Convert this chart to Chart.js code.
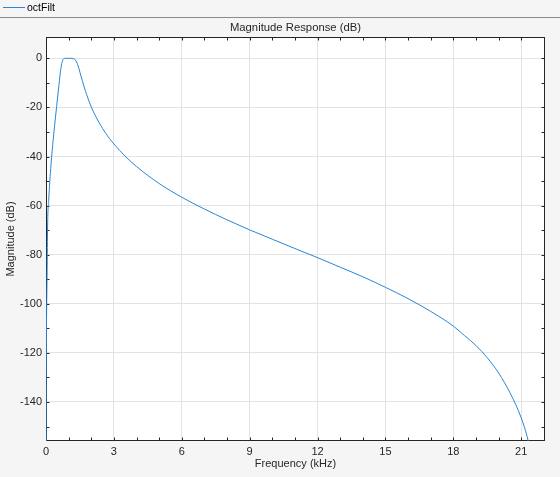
<!DOCTYPE html>
<html>
<head>
<meta charset="utf-8">
<script src="https://cdn.jsdelivr.net/npm/chart.js"></script>
<style>
  html, body { margin: 0; padding: 0; background: #f5f5f5; }
  #wrap { position: relative; width: 560px; height: 477px; overflow: hidden; }
  #strip { position: absolute; left: 0; top: 0; width: 560px; height: 17px; border-bottom: 1px solid #8c8c8c; z-index: 2; }
  #strip .sw { position: absolute; left: 3px; top: 7px; width: 22px; height: 1px; background: #2a86d4; }
  #strip .lb { position: absolute; left: 27px; top: 1px; font: 10.5px "Liberation Sans", Arial, sans-serif; color: #000; }
  #myChart { position: absolute; left: 0; top: 0; }
</style>
</head>
<body>
<div id="wrap">
  <div id="strip"><span class="sw"></span><span class="lb">octFilt</span></div>
  <canvas id="myChart" width="560" height="477"></canvas>
</div>
<script>
// values (kHz, dB)
const freqKHz = [0, 0.005, 0.01, 0.02, 0.05, 0.07, 0.12, 0.17, 0.22, 0.27, 0.32, 0.37, 0.42, 0.47,
  0.52, 0.57, 0.62, 0.67, 0.72, 0.77, 0.87, 1.0, 1.1, 1.2, 1.3, 1.4, 1.5, 1.6, 1.7, 1.8, 2.0, 2.2,
  2.5, 2.8, 3.0, 3.5, 4, 5, 6, 7, 8, 9, 10, 11, 12, 13, 14, 15, 16, 17, 18, 18.5, 19, 19.5, 20, 20.5,
  21, 21.3, 21.6, 21.9];
const magDB = [-300, -147, -129, -111, -87, -68.7, -57.8, -49.9, -43.4, -37.9, -33.0, -28.3, -23.9, -19.6,
  -15.3, -11.1, -6.9, -3.4, -1.2, -0.3, 0, 0, 0, -0.1, -0.7, -2.6, -5.7, -9.0, -12.1, -14.9, -19.8, -23.7,
  -28.6, -32.6, -34.9, -39.9, -44.1, -51.0, -56.6, -61.4, -65.8, -69.9, -73.7, -77.5, -81.2, -85.1, -89.0,
  -93.3, -97.9, -103.1, -109.1, -113.0, -117.0, -122.0, -128.2, -136.2, -146.5, -155.6, -170, -200];
const xTicks = [0, 3, 6, 9, 12, 15, 18, 21];
const yTicks = [-140, -120, -100, -80, -60, -40, -20, 0];

const xMin = 0, xMax = 22.05;
const yMin = -155.9, yMax = 8.7;
const axisColor = '#262626';
const lineColor = '#2a86d4';
const fontFamily = '"Liberation Sans", Arial, sans-serif';

// white plot area, axes box and inward ticks (major + minor)
const axesBox = {
  id: 'axesBox',
  beforeDraw(chart) {
    const a = chart.chartArea, ctx = chart.ctx;
    ctx.save();
    ctx.fillStyle = '#ffffff';
    ctx.fillRect(a.left, a.top, a.right - a.left, a.bottom - a.top);
    ctx.restore();
  },
  beforeDatasetsDraw(chart) {
    const a = chart.chartArea, ctx = chart.ctx;
    const xs = chart.scales.x, ys = chart.scales.y;
    const L = Math.round(a.left) + 0.5, R = Math.round(a.right) - 0.5;
    const T = Math.round(a.top) + 0.5, B = Math.round(a.bottom) - 0.5;
    ctx.save();
    ctx.strokeStyle = axisColor;
    ctx.lineWidth = 1;
    ctx.beginPath();
    for (let v = 0; v <= xMax; v += 1) {
      const px = Math.round(xs.getPixelForValue(v)) + 0.5;
      ctx.moveTo(px, B); ctx.lineTo(px, B - 3);
      ctx.moveTo(px, T); ctx.lineTo(px, T + 3);
    }
    for (let v = -150; v <= 0; v += 10) {
      const py = Math.round(ys.getPixelForValue(v)) + 0.5;
      ctx.moveTo(L, py); ctx.lineTo(L + 3, py);
      ctx.moveTo(R, py); ctx.lineTo(R - 3, py);
    }
    ctx.stroke();
    ctx.strokeRect(L, T, R - L, B - T);
    ctx.restore();
  }
};

const ctx = document.getElementById('myChart');

new Chart(ctx, {
  type: 'line',
  data: {
    datasets: [{
      label: 'octFilt',
      data: freqKHz.map((f, i) => ({ x: f, y: magDB[i] })),
      borderColor: lineColor,
      borderWidth: 1,
      pointRadius: 0,
      cubicInterpolationMode: 'monotone',
      fill: false
    }]
  },
  options: {
    responsive: false,
    animation: false,
    events: [],
    layout: { padding: { top: 0, right: 15, bottom: 0, left: 0 } },
    plugins: {
      legend: { display: false },
      tooltip: { enabled: false },
      title: {
        display: true,
        fullSize: false,
        text: 'Magnitude Response (dB)',
        color: axisColor,
        font: { family: fontFamily, size: 11.3, weight: 'normal' },
        padding: { top: 21.2, bottom: 2.2 }
      }
    },
    scales: {
      x: {
        type: 'linear',
        min: xMin,
        max: xMax,
        afterBuildTicks: s => { s.ticks = xTicks.map(v => ({ value: v })); },
        afterFit: s => { s.height = 36; },
        grid: { color: '#e3e3e3', drawTicks: false },
        border: { display: false },
        ticks: { color: axisColor, font: { family: fontFamily, size: 11 }, padding: 4, maxRotation: 0, autoSkip: false },
        title: { display: true, text: 'Frequency (kHz)', color: axisColor, font: { family: fontFamily, size: 11 }, padding: { top: 0, bottom: 6 } }
      },
      y: {
        type: 'linear',
        min: yMin,
        max: yMax,
        afterBuildTicks: s => { s.ticks = yTicks.map(v => ({ value: v })); },
        afterFit: s => { s.width = 46; },
        grid: { color: '#e3e3e3', drawTicks: false },
        border: { display: false },
        ticks: { color: axisColor, font: { family: fontFamily, size: 11 }, padding: 4, autoSkip: false },
        title: { display: true, text: 'Magnitude (dB)', color: axisColor, font: { family: fontFamily, size: 11 }, padding: { top: 4, bottom: 0 } }
      }
    }
  },
  plugins: [axesBox]
});
</script>
</body>
</html>
